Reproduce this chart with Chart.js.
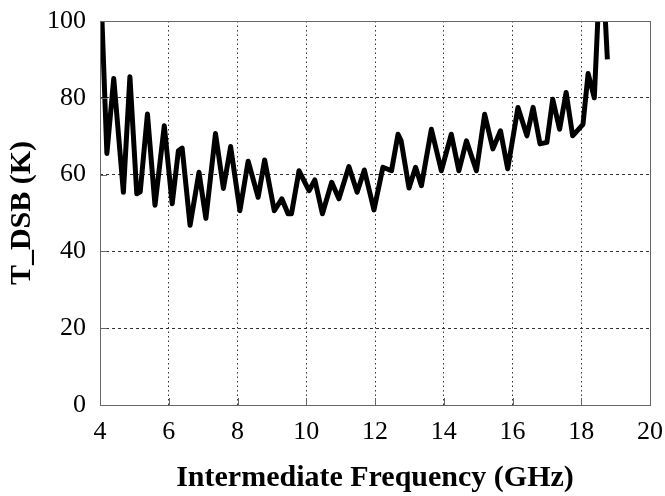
<!DOCTYPE html>
<html>
<head>
<meta charset="utf-8">
<script src="https://cdn.jsdelivr.net/npm/chart.js@4"></script>
<style>
  html, body { margin: 0; padding: 0; background: #fff; }
  #wrap { width: 665px; height: 496px; }
</style>
</head>
<body>
<div id="wrap"><canvas id="c"></canvas></div>
<script>
// IF frequency (GHz) and DSB noise temperature (K)
const freq = [4.05, 4.20, 4.40, 4.68, 4.87, 5.07, 5.17, 5.38, 5.60, 5.87, 6.10, 6.28, 6.39, 6.62, 6.88, 7.08, 7.36, 7.59, 7.80,
  8.07, 8.31, 8.60, 8.79, 9.07, 9.29, 9.47, 9.57, 9.79, 10.08, 10.25, 10.47, 10.74, 10.95, 11.24, 11.48, 11.69, 11.97,
  12.23, 12.48, 12.67, 12.76, 12.99, 13.18, 13.35, 13.64, 13.93, 14.22, 14.44, 14.66, 14.95, 15.19, 15.43, 15.65, 15.86,
  16.16, 16.42, 16.60, 16.80, 17.00, 17.17, 17.37, 17.56, 17.75, 18.05, 18.20, 18.38, 18.49, 18.60, 18.68, 18.76];
const tdsb = [102, 65.5, 85, 55.4, 85.5, 55, 55.5, 75.8, 52, 72.7, 52.4, 66.2, 66.9, 46.8, 60.6, 48.6, 70.7, 56.4, 67.3,
  50.6, 63.5, 54.1, 63.8, 50.6, 53.7, 49.8, 49.8, 61, 55.8, 58.6, 49.8, 58, 53.7, 62.1, 55.4, 61.2, 50.8,
  61.9, 61, 70.5, 68.8, 56.5, 61.9, 57.1, 71.8, 61, 70.5, 61, 68.8, 61, 75.7, 66.7, 71.4, 61.5,
  77.5, 70.1, 77.5, 68, 68.4, 79.6, 71.8, 81.4, 70.1, 73.1, 86.3, 80, 102, 115, 104, 90];
const xTicks = [4, 6, 8, 10, 12, 14, 16, 18, 20];
const yTicks = [0, 20, 40, 60, 80, 100];

const serif = "'Liberation Serif', 'Times New Roman', serif";

// box round the plot plus short inward tick marks
const frame = {
  id: 'frame',
  afterDraw(chart) {
    const { ctx, chartArea: a, scales } = chart;
    ctx.save();
    ctx.strokeStyle = '#666';
    ctx.lineWidth = 1;
    ctx.setLineDash([]);
    ctx.strokeRect(a.left + 0.5, a.top + 0.5, a.right - a.left, a.bottom - a.top);
    ctx.beginPath();
    xTicks.forEach(v => {
      const px = Math.round(scales.x.getPixelForValue(v)) + 0.5;
      ctx.moveTo(px, a.bottom);
      ctx.lineTo(px, a.bottom - 7);
    });
    yTicks.forEach(v => {
      const py = Math.round(scales.y.getPixelForValue(v)) + 0.5;
      ctx.moveTo(a.left, py);
      ctx.lineTo(a.left + 7, py);
    });
    ctx.stroke();
    ctx.restore();
  }
};

new Chart(document.getElementById('c'), {
  type: 'line',
  data: {
    datasets: [{
      data: freq.map((f, i) => ({ x: f, y: tdsb[i] })),
      borderColor: '#000',
      borderWidth: 5,
      borderJoinStyle: 'round',
      borderCapStyle: 'butt',
      pointRadius: 0,
      tension: 0,
      fill: false
    }]
  },
  options: {
    responsive: true,
    maintainAspectRatio: false,
    animation: false,
    layout: { padding: { top: 21, right: 15, left: 0, bottom: 0 } },
    plugins: { legend: { display: false }, tooltip: { enabled: false } },
    scales: {
      x: {
        type: 'linear',
        min: 4, max: 20,
        afterBuildTicks: s => { s.ticks = xTicks.map(v => ({ value: v })); },
        afterFit: s => { s.height = 91; s.paddingLeft = 0; s.paddingRight = 0; },
        grid: { color: '#333', lineWidth: 1, drawTicks: false },
        border: { display: false, dash: [1.5, 3] },
        ticks: { color: '#000', font: { family: serif, size: 26 }, padding: 12, maxRotation: 0 },
        title: { display: true, text: 'Intermediate Frequency (GHz)', color: '#000',
          font: { family: serif, size: 30, weight: 'bold' }, padding: { top: 8, bottom: 0 } }
      },
      y: {
        min: 0, max: 100,
        afterBuildTicks: s => { s.ticks = yTicks.map(v => ({ value: v })); },
        afterFit: s => { s.width = 100; s.paddingTop = 0; s.paddingBottom = 0; },
        grid: { color: '#333', lineWidth: 1, drawTicks: false },
        border: { display: false, dash: [3, 3] },
        ticks: { color: '#000', font: { family: serif, size: 26 }, padding: 14 },
        title: { display: true, text: 'T_DSB (K)', color: '#000',
          font: { family: serif, size: 30, weight: 'bold' }, padding: { top: 4, bottom: 4 } }
      }
    }
  },
  plugins: [frame]
});
</script>
</body>
</html>
